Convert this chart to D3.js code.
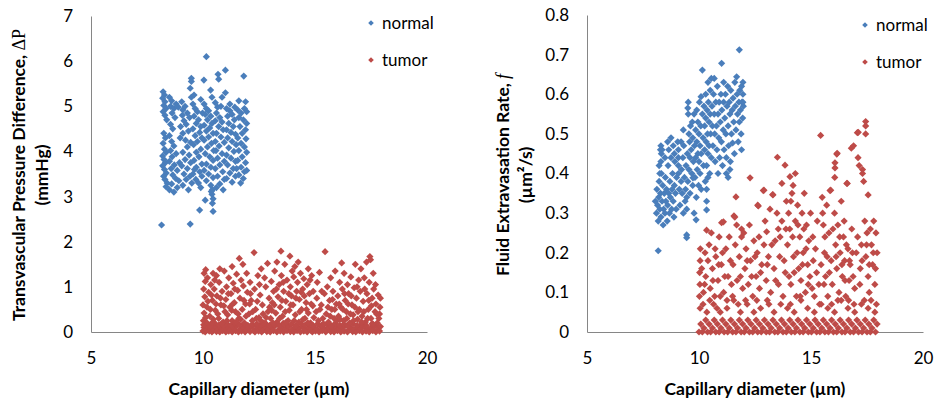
<!DOCTYPE html>
<html>
<head>
<meta charset="utf-8">
<script src="https://cdn.jsdelivr.net/npm/d3@7"></script>
<style>
body { margin: 0; background: #fff; }
svg { display: block; font-family: Lato, "Open Sans", sans-serif; }
</style>
</head>
<body>
<svg id="chart" width="936" height="405"></svg>
<script>
// tick values
var xTicks = [5, 10, 15, 20];
var pressureTicks = [0, 1, 2, 3, 4, 5, 6, 7];
var rateTicks = [0, 0.1, 0.2, 0.3, 0.4, 0.5, 0.6, 0.7, 0.8];
var rateTickLabels = ['0', '0.1', '0.2', '0.3', '0.4', '0.5', '0.6', '0.7', '0.8'];
var seriesNames = ['normal', 'tumor'];

// left panel: transvascular pressure difference (mmHg) vs capillary diameter (um)
var pressureNormal = [
[10.15,6.10],[11.0,5.80],[10.67,5.71],[10.70,5.60],[11.82,5.67],[9.48,5.62],[9.48,5.55],[10.04,5.58],[9.43,5.40],[10.34,5.36],[11.0,5.30],[10.4,5.20],[11.6,5.12],[10.8,5.0],
[8.22,5.32],[8.28,5.25],[8.2,5.18],[8.3,5.10],[8.25,5.02],[8.35,4.95],[8.22,4.88],[8.3,4.80],[8.38,4.70],[8.25,4.40],[8.32,4.30],[8.22,4.18],[8.28,4.05],[8.35,3.98],[8.2,3.90],[8.26,3.82],[8.32,3.75],[8.2,3.68],[8.28,3.60],[8.36,3.52],[8.24,3.45],[8.3,3.38],[8.4,3.30],[8.35,3.22],[8.5,3.15],
[8.5,5.20],[8.6,5.12],[8.55,5.0],[8.7,4.95],[8.62,4.85],[8.8,5.05],[8.9,4.98],[8.75,4.75],[8.55,4.60],[8.65,4.50],[8.5,4.35],[8.6,4.22],[8.7,4.12],[8.55,4.02],[8.8,3.95],[8.62,3.88],[8.5,3.78],[8.72,3.70],[8.58,3.62],[8.85,3.58],[8.65,3.48],[8.78,3.40],[8.92,3.35],[8.6,3.28],[8.85,3.20],[8.7,3.10],[8.95,3.75],[8.98,4.30],[9.0,4.55],
[9.05,5.10],[9.1,4.92],[9.08,4.80],[9.15,4.68],[9.2,5.0],[9.3,4.85],[9.25,4.60],[9.4,4.75],[9.35,4.45],[9.1,4.40],[9.22,4.25],[9.45,4.20],[9.3,4.10],[9.1,3.98],[9.38,3.92],[9.2,3.82],[9.45,3.75],[9.05,3.68],[9.3,3.62],[9.15,3.50],[9.42,3.45],[9.25,3.38],[9.5,3.30],[9.1,3.25],[9.35,3.15],[9.48,5.20],
[9.55,5.05],[9.65,4.95],[9.75,4.88],[9.6,4.78],[9.8,4.70],[9.7,4.62],[9.9,4.55],[9.55,4.50],[9.85,4.42],[9.65,4.35],[9.95,4.30],[9.75,4.22],[9.58,4.15],[9.9,4.05],[9.7,3.98],[9.82,3.88],[9.6,3.80],[9.95,3.72],[9.7,3.65],[9.85,3.55],[9.55,3.50],[9.95,3.45],[9.68,3.38],[9.8,3.30],[9.9,3.20],[9.62,3.60],[9.98,4.85],[9.9,5.15],[9.6,5.25],
[10.05,5.05],[10.15,4.95],[10.1,4.82],[10.25,4.90],[10.35,4.78],[10.2,4.70],[10.4,4.62],[10.05,4.58],[10.3,4.52],[10.15,4.45],[10.45,4.40],[10.25,4.32],[10.05,4.25],[10.38,4.18],[10.2,4.10],[10.48,4.02],[10.1,3.95],[10.3,3.88],[10.45,3.80],[10.15,3.72],[10.35,3.65],[10.05,3.58],[10.25,3.50],[10.45,3.42],[10.15,3.35],[10.35,3.25],[10.42,3.15],[10.4,3.05],[10.45,2.95],[10.42,2.85],[10.1,2.92],[9.85,2.70],[10.45,2.67],[10.37,3.11],
[10.55,5.08],[10.65,4.98],[10.6,4.85],[10.75,4.75],[10.55,4.68],[10.85,4.65],[10.7,4.55],[10.9,4.48],[10.6,4.40],[10.8,4.32],[10.55,4.22],[10.95,4.20],[10.72,4.12],[10.58,4.02],[10.85,3.95],[10.65,3.85],[10.95,3.78],[10.75,3.70],[10.55,3.62],[10.88,3.55],[10.65,3.45],[10.95,3.38],[10.75,3.28],[10.6,3.20],[10.9,3.15],[10.85,5.20],
[11.05,4.95],[11.2,4.90],[11.1,4.78],[11.3,4.82],[11.4,4.70],[11.15,4.62],[11.35,4.55],[11.05,4.48],[11.25,4.42],[11.45,4.38],[11.1,4.30],[11.3,4.22],[11.48,4.15],[11.15,4.08],[11.38,4.00],[11.05,3.92],[11.25,3.85],[11.45,3.78],[11.1,3.70],[11.35,3.62],[11.2,3.52],[11.45,3.45],[11.05,3.40],[11.3,3.32],[11.5,3.62],[11.2,5.05],[11.42,4.98],
[11.55,4.92],[11.7,4.85],[11.85,4.95],[11.95,4.88],[11.6,4.75],[11.8,4.70],[11.95,4.62],[11.65,4.55],[11.9,4.48],[11.75,4.40],[11.55,4.30],[11.92,4.28],[11.7,4.18],[11.85,4.10],[11.6,4.02],[11.95,3.98],[11.75,3.88],[11.55,3.80],[11.9,3.75],[11.7,3.65],[11.85,3.55],[11.6,3.48],[11.8,3.40],[11.95,3.58],[11.68,3.30],[11.9,5.10],
[8.15,2.37],[9.43,2.39]
];

var pressureTumor = [
[10.0,0.02],[10.05,0.1],[10.1,0.0],[10.15,0.05],[10.2,0.12],[10.28,0.02],[10.35,0.08],[10.4,0.0],[10.48,0.04],[10.55,0.13],[10.6,0.01],[10.68,0.06],[10.75,0.0],[10.8,0.1],[10.88,0.03],[10.95,0.07],
[11.02,0.0],[11.1,0.12],[11.15,0.02],[11.22,0.05],[11.3,0.0],[11.38,0.09],[11.45,0.03],[11.5,0.14],[11.58,0.0],[11.65,0.06],[11.72,0.02],[11.8,0.11],[11.88,0.0],[11.95,0.04],
[12.02,0.08],[12.1,0.01],[12.18,0.13],[12.25,0.03],[12.32,0.0],[12.4,0.07],[12.48,0.02],[12.55,0.1],[12.62,0.0],[12.7,0.05],[12.78,0.12],[12.85,0.01],[12.92,0.06],
[13.0,0.0],[13.08,0.09],[13.15,0.03],[13.22,0.14],[13.3,0.0],[13.38,0.05],[13.45,0.02],[13.52,0.1],[13.6,0.0],[13.68,0.07],[13.75,0.03],[13.82,0.12],[13.9,0.01],[13.98,0.05],
[14.05,0.0],[14.12,0.1],[14.2,0.03],[14.28,0.07],[14.35,0.0],[14.42,0.13],[14.5,0.02],[14.58,0.06],[14.65,0.0],[14.72,0.09],[14.8,0.04],[14.88,0.0],[14.95,0.11],
[15.02,0.02],[15.1,0.06],[15.18,0.0],[15.25,0.13],[15.32,0.03],[15.4,0.08],[15.48,0.0],[15.55,0.05],[15.62,0.1],[15.7,0.01],[15.78,0.07],[15.85,0.0],[15.92,0.12],
[16.0,0.03],[16.08,0.06],[16.15,0.0],[16.22,0.1],[16.3,0.02],[16.38,0.14],[16.45,0.0],[16.52,0.05],[16.6,0.09],[16.68,0.01],[16.75,0.06],[16.82,0.0],[16.9,0.11],[16.98,0.03],
[17.05,0.07],[17.12,0.0],[17.2,0.12],[17.28,0.02],[17.35,0.05],[17.42,0.0],[17.5,0.09],[17.58,0.03],[17.65,0.13],[17.72,0.0],[17.8,0.06],[17.88,0.02],
[10.03,0.16],[10.18,0.2],[10.32,0.14],[10.52,0.2],[10.72,0.16],[10.92,0.14],[11.08,0.18],[11.26,0.15],[11.42,0.2],[11.62,0.16],[11.82,0.18],[12.0,0.15],[12.2,0.17],[12.38,0.13],[12.58,0.16],[12.8,0.19],[12.98,0.15],[13.18,0.17],[13.4,0.14],[13.58,0.19],[13.78,0.15],[13.95,0.17],[14.15,0.14],[14.38,0.18],[14.55,0.15],[14.75,0.17],[14.92,0.14],[15.12,0.18],[15.3,0.15],[15.52,0.17],[15.72,0.14],[15.9,0.19],[16.1,0.15],[16.28,0.17],[16.48,0.14],[16.7,0.18],[16.88,0.15],[17.08,0.17],[17.3,0.14],[17.55,0.18],[17.75,0.15],[17.92,0.12],
[10.02,0.25],[10.05,0.42],[10.0,0.6],[10.08,0.78],[10.03,0.95],[10.1,1.12],[10.05,1.3],[10.12,1.38],[10.2,1.2],[10.25,0.88],[10.18,0.55],[10.3,0.35],[10.35,1.05],[10.42,0.7],[10.4,0.2],[10.5,0.95],[10.55,0.48],[10.6,1.25],[10.62,0.8],[10.7,0.3],[10.72,1.1],[10.8,0.6],[10.85,0.9],[10.9,0.22],[10.95,1.35],[10.98,0.45],[10.45,1.3],[10.75,1.4],
[11.02,0.72],[11.05,1.0],[11.1,0.38],[11.15,1.2],[11.2,0.55],[11.25,0.85],[11.3,0.25],[11.35,1.08],[11.4,0.65],[11.45,0.45],[11.5,1.28],[11.55,0.92],[11.6,0.3],[11.62,1.63],[11.65,0.75],[11.7,1.15],[11.75,0.5],[11.8,1.02],[11.85,0.2],[11.9,0.62],[11.95,1.3],[11.98,0.88],[11.3,1.45],[11.78,1.5],
[12.05,0.4],[12.1,1.1],[12.15,0.7],[12.2,0.25],[12.28,1.76],[12.3,0.95],[12.35,0.5],[12.45,1.25],[12.5,0.32],[12.55,0.82],[12.6,1.4],[12.65,0.6],[12.72,0.2],[12.8,1.0],[12.88,1.52],[12.9,0.45],[12.95,0.75],[12.4,0.18],[12.75,1.2],
[13.02,0.3],[13.05,1.12],[13.1,0.65],[13.15,0.9],[13.2,1.35],[13.25,0.42],[13.3,0.22],[13.35,0.78],[13.4,1.05],[13.48,1.79],[13.45,0.55],[13.5,1.25],[13.55,0.35],[13.6,0.9],[13.65,1.5],[13.7,0.68],[13.75,1.15],[13.8,0.25],[13.85,0.48],[13.88,1.68],[13.9,1.0],[13.95,0.8],[13.98,1.35],[13.3,1.55],[13.62,0.18],
[14.02,0.6],[14.05,1.22],[14.1,1.45],[14.12,0.38],[14.18,0.9],[14.22,1.1],[14.28,0.22],[14.3,0.72],[14.35,1.3],[14.4,0.5],[14.45,0.95],[14.5,1.18],[14.55,0.3],[14.6,0.65],[14.65,1.05],[14.7,0.42],[14.75,0.85],[14.8,0.2],[14.85,1.25],[14.9,0.58],[14.95,0.32],[14.25,1.55],[14.7,1.4],
[15.05,0.45],[15.1,1.1],[15.15,0.25],[15.2,1.32],[15.28,0.6],[15.35,0.3],[15.45,1.78],[15.5,0.4],[15.55,1.0],[15.6,0.22],[15.65,0.7],[15.7,1.2],[15.75,0.5],[15.8,0.9],[15.85,0.3],[15.9,1.35],[15.95,0.62],[15.42,0.85],
[16.02,0.8],[16.05,0.35],[16.1,1.1],[16.15,0.55],[16.19,1.53],[16.22,0.95],[16.28,0.25],[16.3,1.3],[16.35,0.7],[16.4,0.45],[16.45,1.05],[16.5,0.85],[16.55,0.2],[16.6,1.22],[16.65,0.6],[16.7,0.38],[16.75,0.98],[16.8,1.5],[16.85,0.75],[16.9,0.28],[16.95,1.15],[16.98,0.5],
[17.02,0.9],[17.05,1.4],[17.1,0.35],[17.15,0.68],[17.2,1.2],[17.25,0.22],[17.3,1.55],[17.32,0.85],[17.38,0.5],[17.42,1.1],[17.45,1.67],[17.48,1.6],[17.5,0.3],[17.55,0.75],[17.6,1.3],[17.62,0.95],[17.68,0.45],[17.72,0.62],[17.78,0.2],[17.82,0.82],[17.88,0.4],[17.9,0.55],
[10.12,0.32],[10.22,0.68],[10.33,0.5],[10.38,0.82],[10.46,0.28],[10.52,1.15],[10.58,0.62],[10.66,0.4],[10.78,0.75],[10.83,0.18],[10.93,0.58],[11.07,0.25],[11.13,0.85],[11.28,0.48],[11.33,0.62],[11.42,0.95],[11.48,0.22],[11.57,0.4],[11.68,0.28],[11.83,0.7],[11.92,0.35],
[12.08,0.62],[12.12,0.85],[12.22,0.45],[12.38,0.3],[12.42,0.68],[12.52,1.05],[12.58,0.25],[12.68,0.4],[12.82,0.32],[12.97,0.55],[13.07,0.48],[13.12,0.2],[13.18,0.6],[13.28,0.95],[13.42,0.3],[13.52,0.7],[13.58,1.1],[13.67,0.45],[13.72,0.22],[13.83,0.85],[13.92,0.6],
[14.07,0.25],[14.15,0.75],[14.32,0.45],[14.38,0.88],[14.47,0.28],[14.52,0.8],[14.62,0.5],[14.68,0.2],[14.78,1.15],[14.83,0.62],[14.92,0.9],[15.08,0.75],[15.22,0.5],[15.3,0.9],[15.38,0.18],[15.58,0.55],[15.68,0.35],[15.78,0.72],[15.88,0.5],[15.98,0.25],
[16.08,0.62],[16.12,0.28],[16.25,0.5],[16.32,0.85],[16.42,0.3],[16.48,0.62],[16.58,0.4],[16.62,0.8],[16.72,0.25],[16.78,0.55],[16.88,1.0],[16.92,0.45],[17.08,0.22],[17.18,0.45],[17.22,0.95],[17.35,0.3],[17.4,0.7],[17.52,0.58],[17.58,0.18],[17.7,1.05],[17.75,0.4],[17.85,0.3],[17.92,0.75]
];

// right panel: fluid extravasation rate (um^2/s) vs capillary diameter (um)
var rateNormal = [
[8.18,0.205],[9.45,0.238],[9.87,0.283],[9.45,0.245],
[8.05,0.33],[8.1,0.30],[8.12,0.36],[8.15,0.32],[8.18,0.28],[8.2,0.34],[8.22,0.38],[8.25,0.31],[8.28,0.35],[8.3,0.29],[8.32,0.40],[8.35,0.33],[8.38,0.37],[8.4,0.27],[8.42,0.31],[8.45,0.35],[8.48,0.30],[8.5,0.39],[8.52,0.33],[8.55,0.36],[8.58,0.28],[8.6,0.32],[8.62,0.42],[8.65,0.35],[8.68,0.30],[8.7,0.38],[8.72,0.34],[8.75,0.44],[8.78,0.31],[8.8,0.36],[8.82,0.40],[8.85,0.33],[8.88,0.29],[8.9,0.37],[8.92,0.43],[8.95,0.35],[8.98,0.31],[9.0,0.39],
[8.3,0.47],[8.32,0.45],[8.3,0.43],[8.35,0.46],[8.48,0.44],[8.6,0.48],[8.65,0.46],[8.75,0.49],[8.85,0.47],[8.9,0.45],[9.05,0.48],[9.08,0.46],[9.08,0.44],[9.08,0.42],[9.08,0.40],[8.25,0.40],[8.22,0.42],[8.28,0.46],
[9.12,0.36],[9.15,0.32],[9.2,0.38],[9.22,0.41],[9.25,0.35],[9.28,0.44],[9.3,0.30],[9.32,0.47],[9.35,0.39],[9.38,0.33],[9.4,0.36],[9.42,0.42],[9.45,0.31],[9.45,0.34],[9.48,0.45],[9.5,0.38],[9.52,0.58],[9.52,0.55],[9.55,0.50],[9.55,0.41],[9.58,0.48],[9.6,0.35],[9.6,0.44],[9.5,0.565],[9.3,0.51],[9.2,0.48],
[9.62,0.52],[9.65,0.46],[9.68,0.40],[9.7,0.53],[9.72,0.37],[9.72,0.49],[9.75,0.43],[9.78,0.55],[9.8,0.47],[9.82,0.39],[9.85,0.51],[9.85,0.44],[9.88,0.34],[9.9,0.56],[9.9,0.48],[9.92,0.41],[9.95,0.53],[9.95,0.45],[9.98,0.37],[10.0,0.50],[10.0,0.43],[10.02,0.58],[10.05,0.47],[10.05,0.40],[10.08,0.52],[10.09,0.594],[10.1,0.45],[10.1,0.36],[9.73,0.389],[9.78,0.30],
[10.15,0.661],[10.15,0.55],[10.18,0.49],[10.2,0.42],[10.22,0.57],[10.25,0.52],[10.25,0.46],[10.28,0.38],[10.3,0.60],[10.3,0.54],[10.32,0.48],[10.34,0.42],[10.34,0.36],[10.34,0.308],[10.34,0.33],[10.36,0.56],[10.38,0.50],[10.4,0.63],[10.4,0.45],[10.42,0.58],[10.45,0.53],[10.45,0.47],[10.48,0.40],[10.5,0.61],[10.5,0.55],[10.52,0.50],[10.55,0.44],[10.55,0.64],[10.58,0.57],[10.6,0.52],[10.4,0.39],
[10.62,0.47],[10.65,0.60],[10.68,0.64],[10.68,0.55],[10.7,0.50],[10.72,0.43],[10.75,0.58],[10.78,0.52],[10.8,0.46],[10.82,0.62],[10.85,0.55],[10.85,0.40],[10.88,0.49],[10.9,0.58],[10.92,0.44],[10.95,0.53],[10.98,0.60],[11.0,0.48],[11.01,0.678],[11.02,0.56],[11.05,0.42],[11.08,0.51],[11.1,0.63],[11.1,0.58],
[11.12,0.46],[11.15,0.54],[11.18,0.60],[11.2,0.50],[11.22,0.44],[11.25,0.57],[11.28,0.62],[11.3,0.52],[11.3,0.39],[11.32,0.47],[11.35,0.58],[11.38,0.55],[11.4,0.43],[11.42,0.61],[11.45,0.50],[11.48,0.56],[11.5,0.477],[11.52,0.59],[11.55,0.53],[11.58,0.45],[11.6,0.63],[11.22,0.40],[11.38,0.41],
[11.62,0.57],[11.65,0.51],[11.68,0.644],[11.7,0.60],[11.72,0.55],[11.75,0.48],[11.78,0.58],[11.8,0.712],[11.8,0.53],[11.82,0.61],[11.85,0.56],[11.88,0.50],[11.9,0.62],[11.92,0.58],[11.95,0.54],[11.96,0.63],[11.96,0.60],[11.98,0.57],[11.96,0.58],[11.9,0.46]
];

var rateTumor = [
[10.0,0.0],[10.08,0.02],[10.15,0.0],[10.22,0.01],[10.3,0.03],[10.38,0.0],[10.45,0.02],[10.52,0.0],[10.6,0.01],[10.68,0.03],[10.75,0.0],[10.82,0.02],[10.9,0.0],[10.98,0.01],
[11.05,0.03],[11.12,0.0],[11.2,0.02],[11.28,0.0],[11.35,0.01],[11.42,0.03],[11.5,0.0],[11.58,0.02],[11.65,0.0],[11.72,0.01],[11.8,0.03],[11.88,0.0],[11.95,0.02],
[12.02,0.0],[12.1,0.01],[12.18,0.03],[12.25,0.0],[12.32,0.02],[12.4,0.0],[12.48,0.01],[12.55,0.03],[12.62,0.0],[12.7,0.02],[12.78,0.0],[12.85,0.01],[12.92,0.03],
[13.0,0.0],[13.08,0.02],[13.15,0.0],[13.22,0.01],[13.3,0.03],[13.38,0.0],[13.45,0.02],[13.52,0.0],[13.6,0.01],[13.68,0.03],[13.75,0.0],[13.82,0.02],[13.9,0.0],[13.98,0.01],
[14.05,0.03],[14.12,0.0],[14.2,0.02],[14.28,0.0],[14.35,0.01],[14.42,0.03],[14.5,0.0],[14.58,0.02],[14.65,0.0],[14.72,0.01],[14.8,0.03],[14.88,0.0],[14.95,0.02],
[15.02,0.0],[15.1,0.01],[15.18,0.03],[15.25,0.0],[15.32,0.02],[15.4,0.0],[15.48,0.01],[15.55,0.03],[15.62,0.0],[15.7,0.02],[15.78,0.0],[15.85,0.01],[15.92,0.03],
[16.0,0.0],[16.08,0.02],[16.15,0.0],[16.22,0.01],[16.3,0.03],[16.38,0.0],[16.45,0.02],[16.52,0.0],[16.6,0.01],[16.68,0.03],[16.75,0.0],[16.82,0.02],[16.9,0.0],[16.98,0.01],
[17.05,0.03],[17.12,0.0],[17.2,0.02],[17.28,0.0],[17.35,0.01],[17.42,0.03],[17.5,0.0],[17.58,0.02],[17.65,0.0],[17.72,0.01],[17.8,0.03],[17.88,0.0],[17.95,0.02],
[10.05,0.06],[10.35,0.05],[10.65,0.07],[10.95,0.05],[11.25,0.06],[11.55,0.08],[11.85,0.05],[12.15,0.07],[12.45,0.05],[12.75,0.06],[13.05,0.08],[13.35,0.05],[13.65,0.07],[13.95,0.06],[14.25,0.05],[14.55,0.08],[14.85,0.06],[15.15,0.05],[15.45,0.07],[15.75,0.06],[16.05,0.05],[16.35,0.08],[16.65,0.06],[16.95,0.05],[17.25,0.07],[17.55,0.06],[17.85,0.05],
[10.02,0.09],[10.04,0.12],[10.03,0.15],[10.05,0.18],[10.2,0.10],[10.27,0.20],[10.34,0.257],[10.3,0.14],[10.45,0.22],[10.5,0.11],[10.6,0.16],[10.7,0.09],[10.75,0.19],[10.85,0.13],[10.9,0.24],[11.01,0.276],[11.0,0.17],[11.09,0.278],[11.1,0.10],[11.2,0.21],[11.3,0.14],[11.4,0.18],[11.5,0.09],[11.56,0.293],[11.6,0.29],[11.65,0.341],[11.62,0.22],[11.7,0.13],[11.8,0.19],[11.9,0.26],[11.9,0.24],[11.95,0.11],
[12.05,0.16],[12.1,0.21],[12.2,0.12],[12.28,0.389],[12.3,0.18],[12.4,0.09],[12.45,0.23],[12.55,0.14],[12.62,0.32],[12.65,0.318],[12.6,0.20],[12.7,0.11],[12.8,0.17],[12.87,0.357],[12.9,0.358],[12.9,0.22],[13.0,0.13],[13.02,0.253],[13.1,0.19],[13.17,0.31],[13.2,0.10],[13.29,0.347],[13.3,0.346],[13.35,0.16],[13.4,0.23],[13.5,0.441],[13.54,0.26],[13.55,0.12],[13.6,0.19],[13.7,0.375],[13.7,0.28],[13.75,0.09],[13.84,0.421],[13.85,0.15],[13.9,0.33],[13.95,0.22],
[14.0,0.30],[14.05,0.26],[14.06,0.392],[14.1,0.12],[14.15,0.35],[14.2,0.37],[14.22,0.19],[14.3,0.28],[14.35,0.09],[14.4,0.32],[14.45,0.16],[14.5,0.24],[14.55,0.13],[14.6,0.30],[14.65,0.20],[14.7,0.35],[14.75,0.10],[14.8,0.27],[14.85,0.17],[14.9,0.23],[14.95,0.14],[14.3,0.40],[14.1,0.33],
[15.05,0.11],[15.1,0.18],[15.15,0.09],[15.25,0.15],[15.35,0.12],[15.43,0.496],[15.5,0.34],[15.52,0.30],[15.55,0.27],[15.6,0.20],[15.65,0.14],[15.7,0.32],[15.75,0.09],[15.8,0.25],[15.85,0.357],[15.88,0.358],[15.9,0.18],[15.95,0.12],
[16.06,0.39],[16.07,0.414],[16.07,0.427],[16.05,0.30],[16.1,0.22],[16.15,0.449],[16.17,0.451],[16.15,0.16],[16.2,0.27],[16.25,0.10],[16.3,0.20],[16.35,0.33],[16.4,0.14],[16.45,0.24],[16.5,0.18],[16.55,0.09],[16.6,0.375],[16.62,0.375],[16.65,0.21],[16.7,0.13],[16.75,0.17],[16.8,0.464],[16.85,0.20],[16.9,0.47],[16.95,0.11],
[17.07,0.503],[17.1,0.44],[17.11,0.504],[17.15,0.42],[17.2,0.16],[17.25,0.22],[17.3,0.41],[17.3,0.40],[17.35,0.38],[17.4,0.28],[17.44,0.531],[17.44,0.52],[17.44,0.50],[17.45,0.19],[17.5,0.25],[17.55,0.346],[17.55,0.14],[17.6,0.10],[17.65,0.26],[17.7,0.22],[17.75,0.17],[17.8,0.28],[17.85,0.12],[17.9,0.25],[17.95,0.20],
[10.06,0.21],[10.12,0.16],[10.18,0.07],[10.25,0.12],[10.4,0.18],[10.48,0.08],[10.55,0.25],[10.62,0.13],[10.72,0.21],[10.8,0.06],[10.88,0.17],[10.95,0.09],[11.05,0.2],[11.15,0.14],[11.25,0.08],[11.35,0.24],[11.45,0.12],[11.52,0.17],[11.68,0.27],[11.75,0.07],[11.85,0.14],
[12.0,0.25],[12.08,0.08],[12.15,0.18],[12.25,0.27],[12.35,0.14],[12.5,0.19],[12.58,0.08],[12.68,0.24],[12.75,0.15],[12.95,0.28],[13.05,0.17],[13.12,0.07],[13.25,0.22],[13.42,0.13],[13.48,0.3],[13.62,0.24],[13.8,0.18],[13.88,0.26],
[14.02,0.14],[14.08,0.07],[14.18,0.24],[14.25,0.15],[14.38,0.2],[14.42,0.27],[14.52,0.09],[14.62,0.17],[14.68,0.26],[14.78,0.21],[14.88,0.12],[14.98,0.3],[15.08,0.24],[15.2,0.21],[15.28,0.28],[15.38,0.07],[15.45,0.17],[15.58,0.12],[15.62,0.24],[15.72,0.19],[15.82,0.15],[15.92,0.07],[15.98,0.26],
[16.12,0.19],[16.2,0.08],[16.28,0.24],[16.38,0.17],[16.48,0.28],[16.52,0.13],[16.58,0.22],[16.68,0.08],[16.72,0.18],[16.82,0.26],[16.88,0.14],[16.92,0.07],[17.02,0.2],[17.08,0.24],[17.18,0.12],[17.28,0.18],[17.38,0.08],[17.48,0.22],[17.6,0.17],[17.68,0.08],[17.78,0.2],[17.88,0.16],[17.92,0.07]
];

var colors = { normal: '#4A7EBB', tumor: '#BE4B48' };
var svg = d3.select('#chart');

function diamond(r) {
	return 'M0,' + (-r) + 'L' + r + ',0L0,' + r + 'L' + (-r) + ',0Z';
}

function Panel(opts) {
	var g = svg.append('g');
	var x = d3.scaleLinear().domain([5, 20]).range([opts.left, opts.left + 336]);
	var y = d3.scaleLinear().domain([0, opts.ymax]).range([332, opts.top]);

	// axes
	var xa = g.append('g').attr('transform', 'translate(0,332)')
		.call(d3.axisBottom(x).tickValues(xTicks).tickSize(0).tickSizeOuter(0).tickPadding(20));
	var ya = g.append('g').attr('transform', 'translate(' + opts.left + ',0)')
		.call(d3.axisLeft(y).tickValues(opts.yTicks).tickSize(0).tickSizeOuter(0).tickPadding(18)
			.tickFormat(function(d, i) { return opts.yLabels[i]; }));
	[xa, ya].forEach(function(a) {
		a.select('.domain').attr('stroke', '#868686').attr('stroke-width', 1);
		a.selectAll('text').attr('fill', '#000').style('font-size', '17px').style('font-family', 'Lato, sans-serif');
	});

	// points
	[['normal', opts.normal], ['tumor', opts.tumor]].forEach(function(s) {
		g.append('g').selectAll('path')
			.data(s[1])
			.enter().append('path')
			.attr('d', diamond(3.6))
			.attr('transform', function(d) { return 'translate(' + x(d[0]) + ',' + y(d[1]) + ')'; })
			.attr('fill', colors[s[0]]);
	});

	// legend
	seriesNames.forEach(function(name, i) {
		var ly = opts.legendY + i * 37;
		g.append('path').attr('d', diamond(2.8))
			.attr('transform', 'translate(' + opts.legendX + ',' + ly + ')')
			.attr('fill', colors[name]);
		g.append('text').attr('x', opts.legendX + 11).attr('y', ly + 6)
			.style('font-size', '17px').text(name);
	});

	// x title
	g.append('text').attr('x', x(12.5)).attr('y', 395)
		.attr('text-anchor', 'middle').style('font-size', '17.5px').style('font-weight', 'bold')
		.text('Capillary diameter (\u00b5m)');

	// y title, two lines
	var t1 = g.append('text').attr('transform', 'translate(' + opts.titleX + ',175) rotate(-90)')
		.attr('text-anchor', 'middle').style('font-size', '17.5px').style('font-weight', 'bold');
	t1.append('tspan').text(opts.yTitle);
	t1.append('tspan').style('font-family', '"Liberation Serif", serif').style('font-weight', 'normal')
		.style('font-style', opts.symbolItalic ? 'italic' : 'normal').style('font-size', '18px')
		.text(opts.symbol);
	g.append('text').attr('transform', 'translate(' + (opts.titleX + opts.unitGap) + ',175) rotate(-90)')
		.attr('text-anchor', 'middle').style('font-size', '17.5px').style('font-weight', 'bold')
		.text(opts.yUnit);
}

new Panel({
	left: 91, top: 16, ymax: 7, yTicks: pressureTicks, yLabels: pressureTicks,
	normal: pressureNormal, tumor: pressureTumor,
	legendX: 371, legendY: 23, titleX: 25, unitGap: 23,
	yTitle: 'Transvascular Pressure Difference, ', symbol: '\u0394P', symbolItalic: false, yUnit: '(mmHg)'
});
new Panel({
	left: 587, top: 15, ymax: 0.8, yTicks: rateTicks, yLabels: rateTickLabels,
	normal: rateNormal, tumor: rateTumor,
	legendX: 865, legendY: 25, titleX: 509, unitGap: 23,
	yTitle: 'Fluid Extravasation Rate, ', symbol: 'f', symbolItalic: true, yUnit: '(\u00b5m\u00b2/s)'
});
</script>
</body>
</html>
